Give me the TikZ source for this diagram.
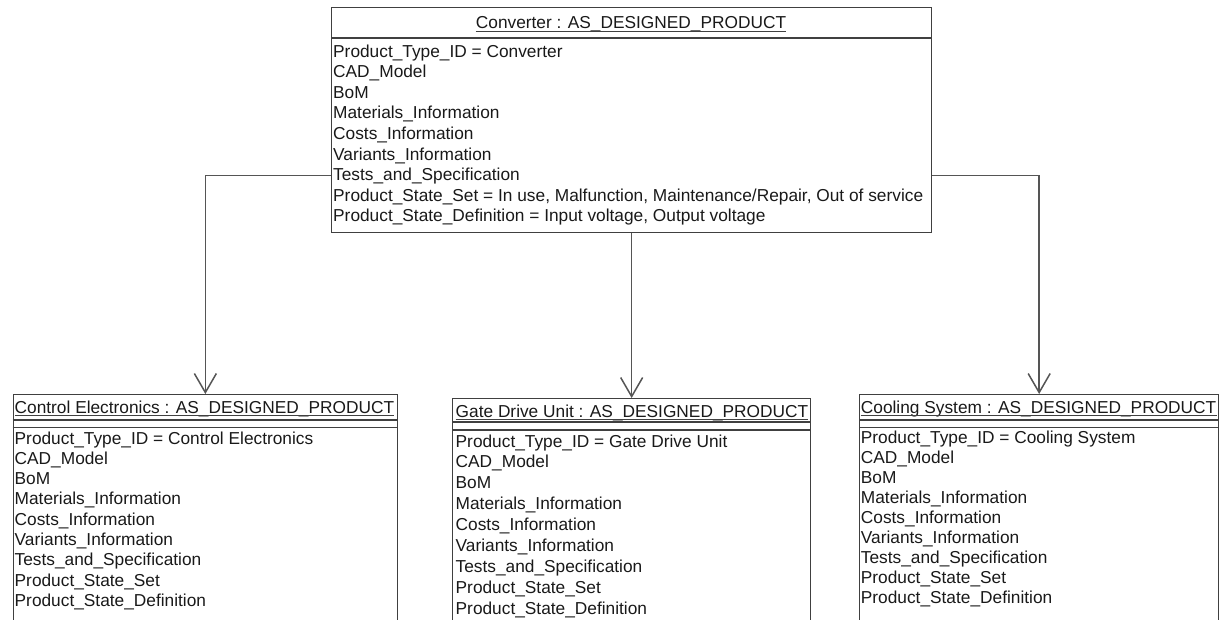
\documentclass[tikz,border=0pt]{standalone}
\usepackage{fontspec}
\setmainfont{Liberation Sans}
\usetikzlibrary{arrows.meta}

\definecolor{edge}{RGB}{64,64,64}
\definecolor{wire}{RGB}{85,85,85}
\definecolor{ink}{RGB}{25,25,25}

\tikzset{
  objbox/.style={draw=edge, line width=1.3pt, rectangle, inner sep=0pt, anchor=north west},
  attr/.style={font=\fontsize{17.3}{20}\selectfont, text=ink, inner sep=0pt, anchor=base west},
  rule/.style={draw=edge, line width=1.1pt},
  link/.style={draw=wire, line width=1.5pt,
    -{Straight Barb[length=19pt,width=22pt,line width=1.5pt]}},
}

% attribute list of an object box: prefix, left x, first baseline, line step, items
\newcommand\objlines[5]{%
  \foreach \txt [count=\k] in {#5} {
    \node[attr] (#1-\k) at (#2, {#3+(\k-1)*#4}) {\txt};
  }}

% underlined object title
\newcommand\objtitle[3]{%
  \draw[rule, line width=0.9pt] ([yshift=-#3]#1.base west) -- ([yshift=-#3]#1.base east);}

\begin{document}
\begin{tikzpicture}[x=1pt, y=-1pt]
\useasboundingbox (0,0) rectangle (1222,619);
\clip (0,0) rectangle (1222,619);

% ---- Converter ----
\node[objbox, minimum width=600pt, minimum height=225pt] (conv) at (331,7) {};
\node[attr, anchor=base] (conv-h) at (631,28) {Converter : AS\_DESIGNED\_PRODUCT};
\objtitle{conv-h}{}{3.2pt}
\draw[rule] (conv.west |- 0,38) -- (conv.east |- 0,38);
\objlines{conv}{333}{57}{20.6}{
  {Product\_Type\_ID = Converter},
  {CAD\_Model},
  {BoM},
  {Materials\_Information},
  {Costs\_Information},
  {Variants\_Information},
  {Tests\_and\_Specification},
  {Product\_State\_Set = In use, Malfunction, Maintenance/Repair, Out of service},
  {Product\_State\_Definition = Input voltage, Output voltage}}

% ---- Control Electronics ----
\node[objbox, minimum width=384pt, minimum height=250pt] (ce) at (12.7,394) {};
\node[attr] (ce-h) at (14.5,413.3) {Control Electronics : AS\_DESIGNED\_PRODUCT};
\objtitle{ce-h}{}{2.5pt}
\draw[rule] (ce.west |- 0,420) -- (ce.east |- 0,420);
\draw[rule] (ce.west |- 0,427.5) -- (ce.east |- 0,427.5);
\objlines{ce}{14.5}{444}{20.3}{
  {Product\_Type\_ID = Control Electronics},
  {CAD\_Model},
  {BoM},
  {Materials\_Information},
  {Costs\_Information},
  {Variants\_Information},
  {Tests\_and\_Specification},
  {Product\_State\_Set},
  {Product\_State\_Definition}}

% ---- Gate Drive Unit ----
\node[objbox, minimum width=358pt, minimum height=246pt] (gd) at (452,398) {};
\node[attr] (gd-h) at (455.5,417) {Gate Drive Unit : AS\_DESIGNED\_PRODUCT};
\objtitle{gd-h}{}{2.5pt}
\draw[rule] (gd.west |- 0,422) -- (gd.east |- 0,422);
\draw[rule] (gd.west |- 0,430) -- (gd.east |- 0,430);
\objlines{gd}{455.5}{447}{20.9}{
  {Product\_Type\_ID = Gate Drive Unit},
  {CAD\_Model},
  {BoM},
  {Materials\_Information},
  {Costs\_Information},
  {Variants\_Information},
  {Tests\_and\_Specification},
  {Product\_State\_Set},
  {Product\_State\_Definition}}

% ---- Cooling System ----
\node[objbox, minimum width=359pt, minimum height=250pt] (cs) at (859,394) {};
\node[attr] (cs-h) at (860.7,413) {Cooling System : AS\_DESIGNED\_PRODUCT};
\objtitle{cs-h}{}{2.5pt}
\draw[rule] (cs.west |- 0,420) -- (cs.east |- 0,420);
\draw[rule] (cs.west |- 0,427.5) -- (cs.east |- 0,427.5);
\objlines{cs}{860.7}{443.5}{20}{
  {Product\_Type\_ID = Cooling System},
  {CAD\_Model},
  {BoM},
  {Materials\_Information},
  {Costs\_Information},
  {Variants\_Information},
  {Tests\_and\_Specification},
  {Product\_State\_Set},
  {Product\_State\_Definition}}

% ---- composition links ----
\draw[link] ([yshift=-55.5pt]conv.west) -| (ce.north);
\draw[link] (conv.south) -- (gd.north);
\draw[link] ([yshift=-55.5pt]conv.east) -| (cs.north);
\end{tikzpicture}
\end{document}
